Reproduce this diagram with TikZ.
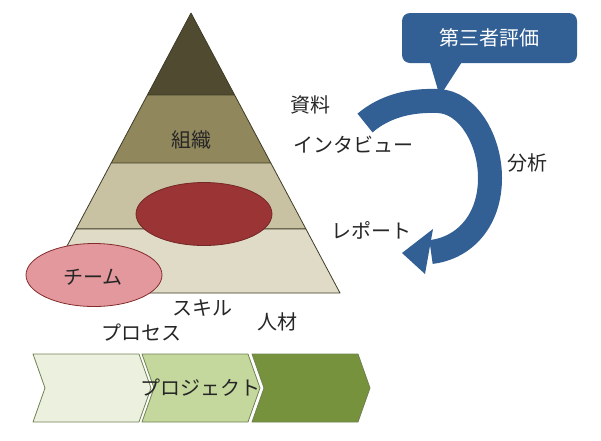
\documentclass[tikz,border=0pt]{standalone}
\usepackage{fontspec}
\setmainfont{Noto Sans CJK JP}
\usetikzlibrary{calc,shapes.geometric}
\definecolor{lvlA}{RGB}{80,74,48}
\definecolor{lvlB}{RGB}{145,135,92}
\definecolor{lvlC}{RGB}{201,194,162}
\definecolor{lvlD}{RGB}{223,219,198}
\definecolor{lvlline}{RGB}{62,60,40}
\definecolor{coreR}{RGB}{155,52,52}
\definecolor{teamR}{RGB}{226,152,156}
\definecolor{chevA}{RGB}{235,240,223}
\definecolor{chevB}{RGB}{196,215,156}
\definecolor{chevC}{RGB}{118,146,60}
\definecolor{chevline}{RGB}{112,130,82}
\definecolor{flowc}{RGB}{50,96,148}
\begin{document}
\begin{tikzpicture}[x=1pt,y=-1pt,line join=round,font=\fontsize{20}{24}\selectfont,
	lbl/.style={text=black!85,inner sep=0pt},
	oval/.style={ellipse,line width=0.8pt,inner sep=0pt}]
	\useasboundingbox (0,0) rectangle (601,440);
	% pyramid
	\coordinate (A) at (191,13);
	\coordinate (L) at (42,293);
	\coordinate (R) at (340,293);
	\foreach \t [count=\i] in {0.293,0.536,0.771}{
		\coordinate (L\i) at ($(A)!\t!(L)$);
		\coordinate (R\i) at ($(A)!\t!(R)$);
	}
	\fill[lvlA] (A)--(L1)--(R1)--cycle;
	\fill[lvlB] (L1)--(L2)--(R2)--(R1)--cycle;
	\fill[lvlC] (L2)--(L3)--(R3)--(R2)--cycle;
	\fill[lvlD] (L3)--(L)--(R)--(R3)--cycle;
	\draw[lvlline,line width=0.8pt] (A)--(L)--(R)--cycle (L1)--(R1) (L2)--(R2) (L3)--(R3);
	\node[lbl] (org) at (191,140) {組織};
	\node[oval,fill=coreR,draw=coreR!75!black,minimum width=136pt,minimum height=63pt] (core) at (204,214) {};
	\node[oval,fill=teamR,draw=coreR!85!black,minimum width=136pt,minimum height=63pt] (team) at (94,275) {};
	\node[lbl] (teamlbl) at (93,277) {チーム};
	\node[lbl] (skill) at (202,308) {スキル};
	\node[lbl] (people) at (277,322) {人材};
	\node[lbl] (process) at (141,333) {プロセス};
	% chevrons
	\foreach \x/\c in {33/chevA,142/chevB,252/chevC}{
		\draw[chevline,fill=\c,line width=0.8pt] (\x,354) -- ++(106,0) -- ++(12,34) -- ++(-12,34) -- ++(-106,0) -- ++(12,-34) -- cycle;
	}
	\node[lbl] (proj) at (200,388) {プロジェクト};
	% cycle arrow
	\draw[flowc,line width=24pt] (365,123) .. controls (385,106) and (410,100) .. (438,101)
		.. controls (468,102) and (490,140) .. (490,178)
		.. controls (490,220) and (465,248) .. (431,252);
	\fill[flowc] (433,229) -- (402,253) -- (425,274) -- cycle;
	\node[fill=flowc,rounded corners=8pt,minimum width=175pt,minimum height=50pt,text=white] (eval) at (489.5,38) {第三者評価};
	\fill[flowc] ($(eval.south west)+(28,-1)$) -- ($(eval.south west)+(38,33)$) -- ($(eval.south west)+(60,-1)$) -- cycle;
	\node[lbl] (docs) at (310,105) {資料};
	\node[lbl] (interview) at (353,145) {インタビュー};
	\node[lbl] (analysis) at (527,163) {分析};
	\node[lbl] (report) at (371,230) {レポート};
\end{tikzpicture}
\end{document}
